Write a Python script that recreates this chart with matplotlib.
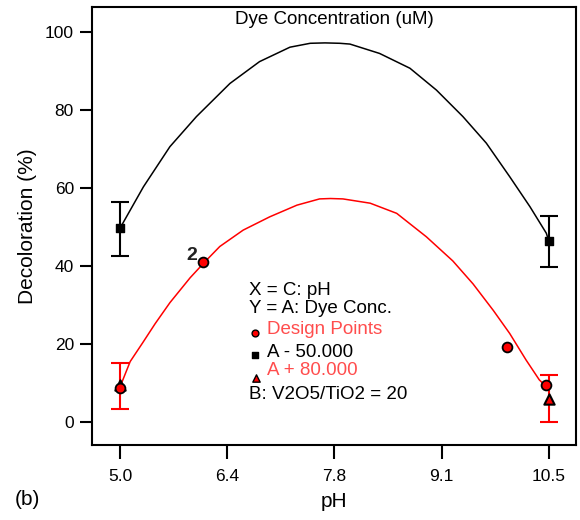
import matplotlib
matplotlib.use("Agg")
import matplotlib.pyplot as plt

plt.rcParams['font.family'] = ['Liberation Sans', 'DejaVu Sans']

# model curve for A = 50 (black)
ph_low = [5.0, 5.30, 5.64, 5.98, 6.41, 6.79, 7.18, 7.44, 7.63, 7.82, 7.95, 8.33, 8.72,
          9.06, 9.40, 9.70, 10.0, 10.26, 10.47, 10.5]
dec_low = [49.7, 60.3, 70.6, 78.3, 86.8, 92.4, 96.1, 97.1, 97.2, 97.1, 96.9, 94.5, 90.7,
           85.1, 78.3, 71.5, 62.9, 55.2, 48.4, 46.5]

# model curve for A = 80 (red)
ph_high = [5.0, 5.13, 5.29, 5.45, 5.64, 5.90, 6.09, 6.28, 6.58, 6.92, 7.27, 7.56, 7.70, 7.86,
           8.21, 8.55, 8.93, 9.27, 9.53, 9.79, 10.0, 10.21, 10.38, 10.5]
dec_high = [9.0, 15.5, 20.3, 25.2, 30.6, 37.0, 41.1, 45.0, 49.2, 52.6, 55.6, 57.2, 57.3, 57.2,
            56.1, 53.5, 47.5, 41.3, 35.4, 28.6, 22.7, 15.9, 10.8, 8.5]

# design points
design_ph = [5.0, 6.06, 9.97, 10.47]
design_dec = [8.7, 41.0, 19.2, 9.5]
tri_ph = [5.0, 10.5]
tri_dec = [9.5, 5.9]
sq_ph = [5.0, 10.5]
sq_dec = [49.7, 46.5]

# error bars (low, high)
err_ph = [5.0, 10.5]
err_black = [(42.6, 56.4), (39.7, 52.8)]
err_red = [(3.3, 15.1), (0.0, 12.0)]

xticks = [5.0, 6.375, 7.75, 9.125, 10.5]
xtick_labels = ["5.0", "6.4", "7.8", "9.1", "10.5"]
yticks = [0, 20, 40, 60, 80, 100]

fig = plt.figure(figsize=(5.8, 5.2), dpi=100)
ax = fig.add_axes([0.1586, 0.1442, 0.8344, 0.8423])

ax.plot(ph_low, dec_low, color='black', lw=1.1, zorder=2)
ax.plot(ph_high, dec_high, color='red', lw=1.1, zorder=2)

for x, (lo, hi) in zip(err_ph, err_black):
    ax.errorbar([x], [(lo + hi) / 2], yerr=[[(hi - lo) / 2], [(hi - lo) / 2]],
                fmt='none', ecolor='black', elinewidth=1.5, capsize=6.5, capthick=1.5, zorder=3)
for x, (lo, hi) in zip(err_ph, err_red):
    ax.errorbar([x], [(lo + hi) / 2], yerr=[[(hi - lo) / 2], [(hi - lo) / 2]],
                fmt='none', ecolor='red', elinewidth=1.5, capsize=6.5, capthick=1.5, zorder=3)

ax.scatter(sq_ph, sq_dec, marker='s', s=40, color='black', zorder=4)
ax.scatter(tri_ph, tri_dec, marker='^', s=55, facecolor='red', edgecolor='black', linewidth=1.5, zorder=4)
ax.scatter(design_ph, design_dec, marker='o', s=50, facecolor='red', edgecolor='black', linewidth=1.3, zorder=5)

ax.text(5.92, 42.8, "2", fontsize=14, fontweight='bold', color='#222222', ha='center', va='center')

ax.set_xlim(4.64, 10.85)
ax.set_ylim(-5.9, 106.4)
ax.set_xticks(xticks)
ax.set_xticklabels(xtick_labels)
ax.set_yticks(yticks)
ax.tick_params(direction='out', width=1.5, labelsize=12.5)
ax.tick_params(axis='x', length=10, pad=7)
ax.tick_params(axis='y', length=9, pad=4)
for s in ax.spines.values():
    s.set_linewidth(1.5)

ax.set_xlabel("pH", fontsize=15, labelpad=6)
ax.set_ylabel("Decoloration (%)", fontsize=15, labelpad=6)

ax.text(0.5, 0.99, "Dye Concentration (uM)", transform=ax.transAxes,
        ha='center', va='top', fontsize=13.5)

# legend text block
tx = 6.65
ax.text(tx, 33.8, "X = C: pH", fontsize=13.5, va='center')
ax.text(tx, 29.2, "Y = A: Dye Conc.", fontsize=13.5, va='center')
ax.scatter([6.73], [22.8], marker='o', s=24, facecolor='red', edgecolor='black', linewidth=1, zorder=5)
ax.text(6.88, 23.6, "Design Points", fontsize=13.5, va='center', color='#ff4d4d')
ax.scatter([6.73], [17.2], marker='s', s=24, color='black', zorder=5)
ax.text(6.88, 17.9, "A - 50.000", fontsize=13.5, va='center')
ax.scatter([6.74], [11.3], marker='^', s=28, facecolor='red', edgecolor='black', linewidth=1, zorder=5)
ax.text(6.88, 13.1, "A + 80.000", fontsize=13.5, va='center', color='#ff4d4d')
ax.text(tx, 7.0, "B: V2O5/TiO2 = 20", fontsize=13.5, va='center')

fig.text(0.026, 0.04, "(b)", fontsize=15, ha='left', va='center')

fig.savefig("out.png", dpi=100)
